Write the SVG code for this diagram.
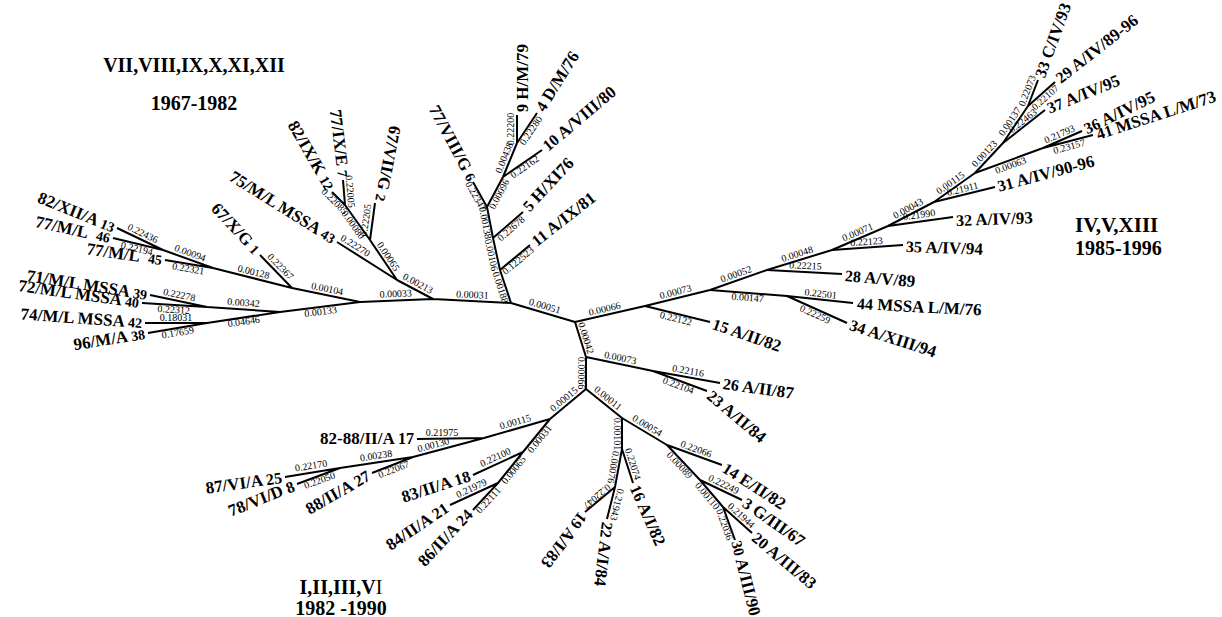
<svg xmlns="http://www.w3.org/2000/svg" width="1222" height="617" viewBox="0 0 1222 617">
<style>
.br{fill:none;stroke:#000;stroke-width:2;stroke-linejoin:round;stroke-linecap:butt}
.bl{font-family:"Liberation Serif",serif;font-size:10px;text-anchor:middle;fill:#000}
.tip{font-family:"Liberation Serif",serif;font-size:17px;font-weight:bold;fill:#000}
.e{text-anchor:end}
.s{font-size:14px}
.m{font-size:16px}
.ttl{font-family:"Liberation Serif",serif;font-weight:bold;fill:#000}
</style>
<rect width="1222" height="617" fill="#fff"/>
<g id="connectors">
<path class="br" d="M511 303 L575 322 L645 306 L710 290 L767 270 L832 250 L888 226 L934 202 L975 173 L1003 143 L1028 106 L1038 80"/>
<path class="br" d="M1028 106 L1055 82 M1003 143 L1045 110 M975 173 L1043 148 L1082 131 M1043 148 L1093 135 M934 202 L995 187 M888 226 L953 217 M832 250 L903 245 M767 270 L842 274 M710 290 L787 296 L853 303 M787 296 L847 323 M645 306 L710 322"/>
<path class="br" d="M575 322 L586 357 L586 389 M586 357 L653 371 L720 383 M653 371 L707 391"/>
<path class="br" d="M586 389 L622 418 L622 449 L615 487 L585 512 M615 487 L607 519 M622 449 L633 483 M622 418 L667 445 L722 465 M667 445 L700 480 L742 500 M700 480 L723 507 L752 533 M723 507 L735 540"/>
<path class="br" d="M586 389 L550 419 L484 438 L417 439 M484 438 L413 457 L340 468 L285 477 M340 468 L297 484 M413 457 L372 473 M550 419 L523 452 L473 475 M523 452 L498 483 L450 505 M498 483 L473 510"/>
<path class="br" d="M511 303 L500 270 L493 238 L487 207 L473 182 M500 270 L530 245 M493 238 L523 212 M487 207 L503 177 L542 150 M503 177 L517 143 L517 115 M517 143 L537 113"/>
<path class="br" d="M511 303 L433 299 L397 280 L370 240 L375 203 M370 240 L345 205 L343 180 M345 205 L332 192 M397 280 L337 242 M433 299 L360 302 L292 288 L260 255 M292 288 L213 268 L165 260 M213 268 L163 250 L117 228 M163 250 L113 238 M360 302 L280 312 L207 307 L150 295 M207 307 L142 303 M280 312 L207 323 L145 323 M207 323 L148 333"/>
</g>
<g id="branch-lengths">
<text class="bl" transform="translate(606,315) rotate(-13)" y="-3">0.00066</text>
<text class="bl" transform="translate(677,298) rotate(-14)" y="-3">0.00073</text>
<text class="bl" transform="translate(738,280) rotate(-19)" y="-3">0.00052</text>
<text class="bl" transform="translate(799,260) rotate(-17)" y="-3">0.00048</text>
<text class="bl" transform="translate(860,238) rotate(-23)" y="-3">0.00071</text>
<text class="bl" transform="translate(911,214) rotate(-28)" y="-3">0.00043</text>
<text class="bl" transform="translate(954,188) rotate(-35)" y="-3">0.00115</text>
<text class="bl" transform="translate(989,158) rotate(-47)" y="-3">0.00123</text>
<text class="bl" transform="translate(1015,125) rotate(-56)" y="-3">0.00137</text>
<text class="bl" transform="translate(1033,93) rotate(-69)" y="-3">0.22073</text>
<text class="bl" transform="translate(1042,94) rotate(-42)" y="8">0.22107</text>
<text class="bl" transform="translate(1026,125) rotate(-38)" y="-2">0.22463</text>
<text class="bl" transform="translate(1009,161) rotate(-20)" y="8">0.00063</text>
<text class="bl" transform="translate(1062,140) rotate(-24)" y="-3">0.21793</text>
<text class="bl" transform="translate(1068,142) rotate(-15)" y="8">0.23157</text>
<text class="bl" transform="translate(964,195) rotate(-14)" y="-3">0.21911</text>
<text class="bl" transform="translate(920,221) rotate(-8)" y="-3">0.21990</text>
<text class="bl" transform="translate(867,248) rotate(-4)" y="-3">0.22123</text>
<text class="bl" transform="translate(805,272) rotate(3)" y="-3">0.22215</text>
<text class="bl" transform="translate(748,293) rotate(4.5)" y="8">0.00147</text>
<text class="bl" transform="translate(820,300) rotate(6)" y="-3">0.22501</text>
<text class="bl" transform="translate(817,310) rotate(24)" y="8">0.22259</text>
<text class="bl" transform="translate(677,314) rotate(14)" y="8">0.22122</text>
<text class="bl" transform="translate(580,340) rotate(72.5)" y="-3">0.00042</text>
<text class="bl" transform="translate(586,373) rotate(90)" y="8">0.00066</text>
<text class="bl" transform="translate(543,312) rotate(16.5)" y="-3">0.00051</text>
<text class="bl" transform="translate(619,364) rotate(12)" y="-3">0.00073</text>
<text class="bl" transform="translate(687,377) rotate(10)" y="-3">0.22116</text>
<text class="bl" transform="translate(680,381) rotate(20)" y="8">0.22104</text>
<text class="bl" transform="translate(604,403) rotate(39)" y="-3">0.00011</text>
<text class="bl" transform="translate(622,434) rotate(90)" y="8">0.00101</text>
<text class="bl" transform="translate(618,468) rotate(100)" y="8">0.00076</text>
<text class="bl" transform="translate(627,466) rotate(72)" y="-3">0.22074</text>
<text class="bl" transform="translate(600,500) rotate(140)" y="8">0.22047</text>
<text class="bl" transform="translate(611,503) rotate(104)" y="-3">0.21943</text>
<text class="bl" transform="translate(644,431) rotate(31)" y="-3">0.00054</text>
<text class="bl" transform="translate(694,455) rotate(20)" y="-3">0.22066</text>
<text class="bl" transform="translate(683,462) rotate(47)" y="8">0.00089</text>
<text class="bl" transform="translate(721,490) rotate(25.5)" y="-3">0.22249</text>
<text class="bl" transform="translate(711,493) rotate(50)" y="8">0.00110</text>
<text class="bl" transform="translate(737,520) rotate(42)" y="-3">0.21944</text>
<text class="bl" transform="translate(729,523) rotate(70)" y="8">0.22036</text>
<text class="bl" transform="translate(568,404) rotate(-40)" y="-3">0.00015</text>
<text class="bl" transform="translate(517,428) rotate(-16)" y="-3">0.00115</text>
<text class="bl" transform="translate(442,439) rotate(0)" y="-3">0.21975</text>
<text class="bl" transform="translate(435,451) rotate(-15)" y="-3">0.00130</text>
<text class="bl" transform="translate(392,465) rotate(-21)" y="8">0.22067</text>
<text class="bl" transform="translate(377,462) rotate(-8.6)" y="-3">0.00238</text>
<text class="bl" transform="translate(312,472) rotate(-9)" y="-3">0.22170</text>
<text class="bl" transform="translate(318,476) rotate(-20)" y="8">0.22050</text>
<text class="bl" transform="translate(536,436) rotate(-51)" y="8">0.00031</text>
<text class="bl" transform="translate(498,463) rotate(-25)" y="-3">0.22100</text>
<text class="bl" transform="translate(510,467) rotate(-51)" y="8">0.00065</text>
<text class="bl" transform="translate(474,494) rotate(-25)" y="-3">0.21979</text>
<text class="bl" transform="translate(485,497) rotate(-47)" y="8">0.22111</text>
<text class="bl" transform="translate(505,286) rotate(72)" y="8">0.00188</text>
<text class="bl" transform="translate(496,254) rotate(78)" y="8">0.00106</text>
<text class="bl" transform="translate(490,222) rotate(79)" y="8">0.00138</text>
<text class="bl" transform="translate(480,194) rotate(61)" y="8">0.22347</text>
<text class="bl" transform="translate(515,257) rotate(-40)" y="8">0.122523</text>
<text class="bl" transform="translate(508,225) rotate(-41)" y="8">0.22678</text>
<text class="bl" transform="translate(495,192) rotate(-62)" y="8">0.00096</text>
<text class="bl" transform="translate(522,163) rotate(-35)" y="8">0.22162</text>
<text class="bl" transform="translate(510,160) rotate(-68)" y="-3">0.00438</text>
<text class="bl" transform="translate(517,129) rotate(-90)" y="-3">0.22200</text>
<text class="bl" transform="translate(527,128) rotate(-56)" y="8">0.22280</text>
<text class="bl" transform="translate(472,301) rotate(3)" y="-3">0.00031</text>
<text class="bl" transform="translate(415,289) rotate(28)" y="-3">0.00213</text>
<text class="bl" transform="translate(383,260) rotate(56)" y="-3">0.00065</text>
<text class="bl" transform="translate(372,221) rotate(-82)" y="-3">0.22205</text>
<text class="bl" transform="translate(357,222) rotate(54.5)" y="8">0.00080</text>
<text class="bl" transform="translate(344,192) rotate(85)" y="-3">0.22005</text>
<text class="bl" transform="translate(338,198) rotate(45)" y="8">0.22085</text>
<text class="bl" transform="translate(352,251) rotate(32)" y="-3">0.22270</text>
<text class="bl" transform="translate(396,300) rotate(-2.4)" y="-3">0.00033</text>
<text class="bl" transform="translate(326,295) rotate(11.6)" y="-3">0.00104</text>
<text class="bl" transform="translate(276,271) rotate(46)" y="-3">0.22367</text>
<text class="bl" transform="translate(252,278) rotate(14)" y="-3">0.00128</text>
<text class="bl" transform="translate(189,264) rotate(9.5)" y="8">0.22321</text>
<text class="bl" transform="translate(188,259) rotate(20)" y="-3">0.00094</text>
<text class="bl" transform="translate(140,239) rotate(25.6)" y="-3">0.22436</text>
<text class="bl" transform="translate(138,244) rotate(13.5)" y="8">0.22194</text>
<text class="bl" transform="translate(320,307) rotate(-7)" y="8">0.00133</text>
<text class="bl" transform="translate(243,309) rotate(4)" y="-3">0.00342</text>
<text class="bl" transform="translate(178,301) rotate(12)" y="-3">0.22278</text>
<text class="bl" transform="translate(174,305) rotate(3.5)" y="8">0.22312</text>
<text class="bl" transform="translate(243,317) rotate(-8.6)" y="8">0.04646</text>
<text class="bl" transform="translate(176,323) rotate(0)" y="-2">0.18031</text>
<text class="bl" transform="translate(177,328) rotate(-9.6)" y="8">0.17659</text>
</g>
<g id="node-13"><text class="tip e" transform="translate(114,228) rotate(22)" y="5">82/XII/A <tspan class="s">13</tspan></text></g>
<g id="node-46"><text class="tip e" transform="translate(110,238) rotate(12)" y="5">77/M/L <tspan class="s" dx="5">46</tspan></text></g>
<g id="node-45"><text class="tip e" transform="translate(162,260) rotate(8)" y="5">77/M/L <tspan class="s" dx="5">45</tspan></text></g>
<g id="node-39"><text class="tip e" transform="translate(147,295) rotate(9)" y="5">71/M/L MSSA <tspan class="s">39</tspan></text></g>
<g id="node-40"><text class="tip e" transform="translate(139,303) rotate(8)" y="5">72/M/L MSSA <tspan class="s">40</tspan></text></g>
<g id="node-42"><text class="tip e" transform="translate(142,323) rotate(4)" y="5">74/M/L MSSA <tspan class="s">42</tspan></text></g>
<g id="node-38"><text class="tip e" transform="translate(145,334) rotate(-9)" y="5">96/M/A <tspan class="s">38</tspan></text></g>
<g id="node-1"><text class="tip e" transform="translate(257,252) rotate(47)" y="5">67/X/G <tspan class="s">1</tspan></text></g>
<g id="node-43"><text class="tip e" transform="translate(334,240) rotate(32)" y="5">75/M/L MSSA <tspan class="s">43</tspan></text></g>
<g id="node-12"><text class="tip e" transform="translate(330,189) rotate(60)" y="5">82/IX/K <tspan class="s">12</tspan></text></g>
<g id="node-7"><text class="tip e" transform="translate(343,177) rotate(83)" y="5">77/IX/E <tspan class="s">7</tspan></text></g>
<g id="node-2"><text class="tip e" transform="translate(380,201) rotate(101)" y="5">67/VII/G <tspan class="s">2</tspan></text></g>
<g id="node-6"><text class="tip e" transform="translate(472,180) rotate(62)" y="5">77/VIII/G <tspan class="s">6</tspan></text></g>
<g id="node-9"><text class="tip" transform="translate(523,112) rotate(-90)" y="5"><tspan class="m">9</tspan> H/M/79</text></g>
<g id="node-4"><text class="tip" transform="translate(540,110) rotate(-58)" y="5"><tspan class="m">4</tspan> D/M/76</text></g>
<g id="node-10"><text class="tip" transform="translate(545,148) rotate(-40)" y="5"><tspan class="m">10</tspan> A/VIII/80</text></g>
<g id="node-5"><text class="tip" transform="translate(526,209) rotate(-47)" y="5"><tspan class="m">5</tspan> H/XI76</text></g>
<g id="node-11"><text class="tip" transform="translate(534,243) rotate(-38)" y="5"><tspan class="m">11</tspan> A/IX/81</text></g>
<g id="node-33"><text class="tip" transform="translate(1040,77) rotate(-70)" y="5"><tspan class="m">33</tspan> C/IV/93</text></g>
<g id="node-29"><text class="tip" transform="translate(1058,80) rotate(-38)" y="5"><tspan class="m">29</tspan> A/IV/89-96</text></g>
<g id="node-37"><text class="tip" transform="translate(1048,109) rotate(-22)" y="5"><tspan class="m">37</tspan> A/IV/95</text></g>
<g id="node-36"><text class="tip" transform="translate(1085,130) rotate(-26)" y="5"><tspan class="m">36</tspan> A/IV/95</text></g>
<g id="node-41"><text class="tip" transform="translate(1097,135) rotate(-18)" y="5"><tspan class="m">41</tspan> MSSA L/M/73</text></g>
<g id="node-31"><text class="tip" transform="translate(998,187) rotate(-15)" y="5"><tspan class="m">31</tspan> A/IV/90-96</text></g>
<g id="node-32"><text class="tip" transform="translate(956,221) rotate(-2)" y="5"><tspan class="m">32</tspan> A/IV/93</text></g>
<g id="node-35"><text class="tip" transform="translate(906,247) rotate(2)" y="5"><tspan class="m">35</tspan> A/IV/94</text></g>
<g id="node-28"><text class="tip" transform="translate(845,276) rotate(5)" y="5"><tspan class="m">28</tspan> A/V/89</text></g>
<g id="node-44"><text class="tip" transform="translate(857,304) rotate(3)" y="5"><tspan class="m">44</tspan> MSSA L/M/76</text></g>
<g id="node-34"><text class="tip" transform="translate(850,325) rotate(18)" y="5"><tspan class="m">34</tspan> A/XIII/94</text></g>
<g id="node-15"><text class="tip" transform="translate(713,324) rotate(19)" y="5"><tspan class="m">15</tspan> A/II/82</text></g>
<g id="node-26"><text class="tip" transform="translate(723,384) rotate(8)" y="5"><tspan class="m">26</tspan> A/II/87</text></g>
<g id="node-23"><text class="tip" transform="translate(709,394) rotate(40)" y="5"><tspan class="m">23</tspan> A/II/84</text></g>
<g id="node-14"><text class="tip" transform="translate(724,467) rotate(33)" y="5"><tspan class="m">14</tspan> E/II/82</text></g>
<g id="node-3"><text class="tip" transform="translate(744,502) rotate(35)" y="5"><tspan class="m">3</tspan> G/III/67</text></g>
<g id="node-20"><text class="tip" transform="translate(754,536) rotate(40)" y="5"><tspan class="m">20</tspan> A/III/83</text></g>
<g id="node-30"><text class="tip" transform="translate(736,541) rotate(76)" y="5" font-size="15"><tspan font-size="15">30</tspan> A/III/90</text></g>
<g id="node-16"><text class="tip" transform="translate(634,486) rotate(66)" y="5"><tspan class="m">16</tspan> A/I/82</text></g>
<g id="node-22"><text class="tip" transform="translate(607,522) rotate(97)" y="5"><tspan class="m">22</tspan> A/I/84</text></g>
<g id="node-19"><text class="tip" transform="translate(583,514) rotate(127)" y="5"><tspan class="m">19</tspan> A/I/83</text></g>
<g id="node-17"><text class="tip e" transform="translate(414,439)" y="5">82-88/II/A <tspan class="m">17</tspan></text></g>
<g id="node-25"><text class="tip e" transform="translate(282,478) rotate(-8)" y="5">87/VI/A <tspan class="m">25</tspan></text></g>
<g id="node-8"><text class="tip e" transform="translate(294,486) rotate(-22)" y="5">78/VI/D <tspan class="m">8</tspan></text></g>
<g id="node-27"><text class="tip e" transform="translate(369,475) rotate(-30)" y="5">88/II/A <tspan class="m">27</tspan></text></g>
<g id="node-18"><text class="tip e" transform="translate(470,476) rotate(-18)" y="5">83/II/A <tspan class="m">18</tspan></text></g>
<g id="node-21"><text class="tip e" transform="translate(447,507) rotate(-34)" y="5">84/II/A <tspan class="m">21</tspan></text></g>
<g id="node-24"><text class="tip e" transform="translate(470,512) rotate(-47)" y="5">86/II/A <tspan class="m">24</tspan></text></g>
<g id="group-VII-XII">
<text class="ttl" x="194" y="72" font-size="20" text-anchor="middle">VII,VIII,IX,X,XI,XII</text>
<text class="ttl" x="194" y="110" font-size="20" text-anchor="middle">1967-1982</text>
</g>
<g id="group-IV-XIII">
<text class="ttl" x="1075" y="232" font-size="21">IV,V,XIII</text>
<text class="ttl" x="1075" y="255" font-size="20">1985-1996</text>
</g>
<g id="group-I-VI">
<text class="ttl" x="341" y="594" font-size="20" text-anchor="middle">I,II,III,V<tspan font-weight="normal">I</tspan></text>
<text class="ttl" x="341" y="615" font-size="20" text-anchor="middle">1982 -1990</text>
</g>
</svg>
